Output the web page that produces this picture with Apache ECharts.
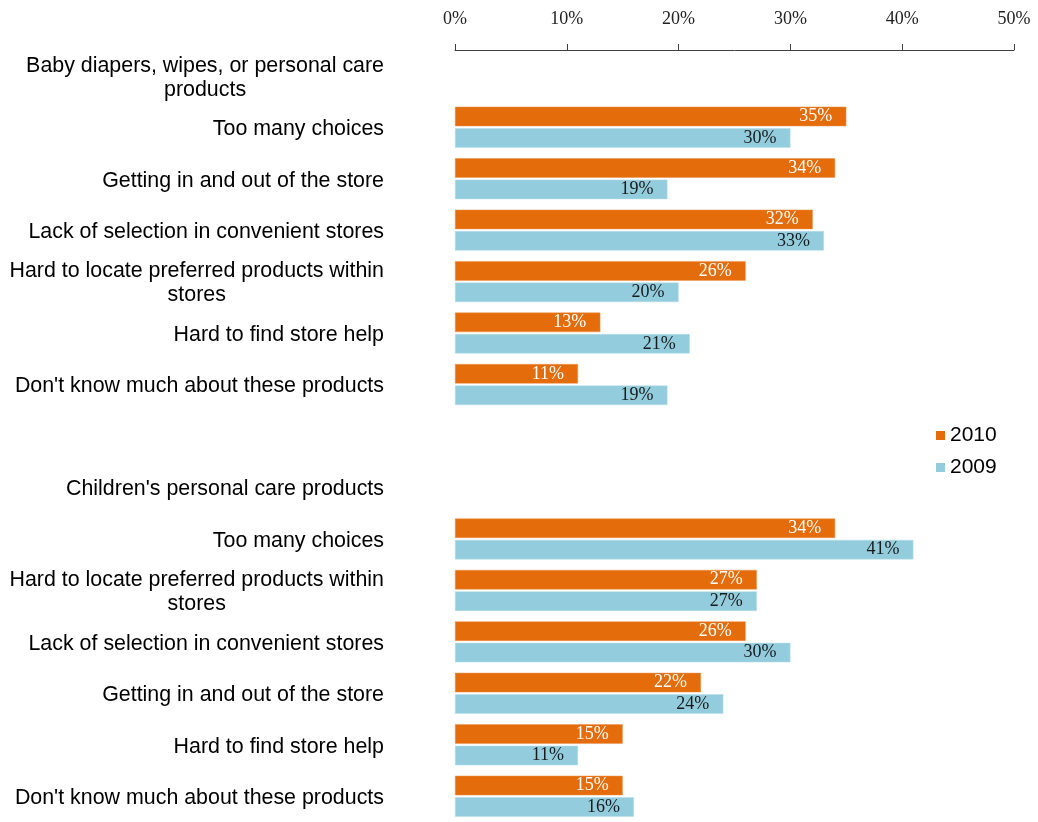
<!DOCTYPE html>
<html>
<head>
<meta charset="utf-8">
<script src="https://cdn.jsdelivr.net/npm/echarts@6/dist/echarts.min.js"></script>
<style>
  html, body { margin: 0; padding: 0; background: #fff; }
  #chart { width: 1038px; height: 822px; }
</style>
</head>
<body>
<div id="chart"></div>
<script>
// Rows from top to bottom; group headings and the spacer row carry no bars.
const categories = [
  'Baby diapers, wipes, or personal care\nproducts',
  'Too many choices',
  'Getting in and out of the store',
  'Lack of selection in convenient stores',
  'Hard to locate preferred products within\nstores',
  'Hard to find store help',
  "Don't know much about these products",
  '',
  "Children's personal care products",
  'Too many choices',
  'Hard to locate preferred products within\nstores',
  'Lack of selection in convenient stores',
  'Getting in and out of the store',
  'Hard to find store help',
  "Don't know much about these products"
];

const values2010 = [null, 35, 34, 32, 26, 13, 11, null, null, 34, 27, 26, 22, 15, 15];
const values2009 = [null, 30, 19, 33, 20, 21, 19, null, null, 41, 27, 30, 24, 11, 16];

const seriesNames = ['2010', '2009'];
const tickValues = [0, 10, 20, 30, 40, 50];

const ORANGE = '#E46C0A';
const BLUE = '#93CDDD';
const SERIF = '"Liberation Serif", "Times New Roman", serif';
const SANS = '"Liberation Sans", Arial, sans-serif';
const CAT_FONT_SIZE = 21.4;
const GRID_LEFT = 455;
const LABEL_GAP = 71;

const chart = echarts.init(document.getElementById('chart'), null, { renderer: 'canvas' });

function barLabel(color) {
  return {
    show: true,
    position: 'insideRight',
    distance: 14,
    color: color,
    fontFamily: SERIF,
    fontSize: 18,
    formatter: p => (p.value == null ? '' : Math.round(p.value) + '%')
  };
}

chart.setOption({
  animation: false,
  backgroundColor: '#ffffff',
  grid: {
    left: GRID_LEFT,
    right: 24,
    top: 50,
    height: 776,
    containLabel: false
  },
  legend: {
    orient: 'vertical',
    left: 931,
    top: 420,
    icon: 'rect',
    itemWidth: 9,
    itemHeight: 9,
    itemGap: 11,
    data: seriesNames,
    itemStyle: { borderWidth: 0 },
    textStyle: { fontFamily: SANS, fontSize: 21, color: '#000' }
  },
  xAxis: {
    type: 'value',
    position: 'top',
    min: tickValues[0],
    max: tickValues[tickValues.length - 1],
    interval: tickValues[1] - tickValues[0],
    axisLine: { show: true, lineStyle: { color: '#404040', width: 1 } },
    axisTick: { show: true, length: 6, lineStyle: { color: '#404040' } },
    splitLine: { show: false },
    axisLabel: {
      margin: 22,
      fontFamily: SERIF,
      fontSize: 18,
      color: '#222',
      formatter: '{value}%'
    }
  },
  yAxis: {
    type: 'category',
    inverse: true,
    data: categories,
    axisLine: { show: false },
    axisTick: { show: false },
    axisLabel: { show: false }
  },
  series: [
    {
      name: seriesNames[0],
      type: 'bar',
      data: values2010,
      barWidth: 19.5,
      barGap: '10%',
      itemStyle: { color: ORANGE, borderColor: '#EC9350', borderWidth: 0.5 },
      label: barLabel('#ffffff')
    },
    {
      name: seriesNames[1],
      type: 'bar',
      data: values2009,
      barWidth: 19.5,
      barGap: '10%',
      itemStyle: { color: BLUE, borderColor: '#B5DDE8', borderWidth: 0.5 },
      label: barLabel('#1a1a1a')
    }
  ]
});

// Category labels: the block is right-aligned to the plot, each wrapped line centred in it.
const measureCtx = document.createElement('canvas').getContext('2d');
measureCtx.font = CAT_FONT_SIZE + 'px ' + SANS;
const labelRight = GRID_LEFT - LABEL_GAP;
const categoryLabels = [];
categories.forEach((name, i) => {
  if (!name) return;
  const lines = name.split('\n');
  const blockWidth = Math.max.apply(null, lines.map(l => measureCtx.measureText(l).width));
  const y = chart.convertToPixel({ yAxisIndex: 0 }, i);
  categoryLabels.push({
    type: 'text',
    x: labelRight - blockWidth / 2,
    y: y + 2,
    silent: true,
    style: {
      text: name,
      fill: '#000',
      fontFamily: SANS,
      fontSize: CAT_FONT_SIZE,
      lineHeight: 24,
      align: 'center',
      textAlign: 'center',
      verticalAlign: 'middle',
      textVerticalAlign: 'middle'
    }
  });
});
chart.setOption({ graphic: { elements: categoryLabels } });
</script>
</body>
</html>
